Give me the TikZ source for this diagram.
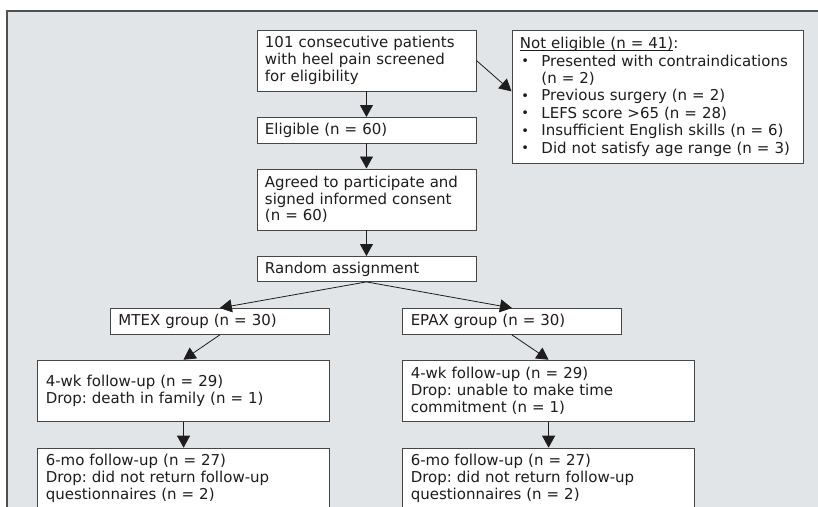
\documentclass[tikz,border=0pt]{standalone}
\usepackage{fontspec}
\setmainfont{DejaVu Sans}
\usetikzlibrary{arrows.meta,calc}
\definecolor{panel}{RGB}{225,229,232}
\definecolor{edgecol}{RGB}{80,80,80}
\definecolor{boxline}{RGB}{70,70,70}
\definecolor{ink}{RGB}{30,28,28}
\newcommand\nebul{\makebox[21.5pt][l]{\hspace{1.5pt}\raisebox{0.6pt}{\fontsize{13}{13}\selectfont\textbullet}}}
\newcommand\neul[1]{\setbox0\hbox{#1}\rlap{\rule[-2.4pt]{\wd0}{0.7pt}}\box0}
\frenchspacing
\begin{document}
\begin{tikzpicture}[x=1pt,y=-1pt,
  box/.style={draw=boxline, fill=white, line width=0.9pt, inner xsep=8pt, inner ysep=5pt,
    align=left, anchor=north west, text=ink, font=\fontsize{15}{16.8}\selectfont\frenchspacing},
  conn/.style={draw=ink, line width=0.8pt, -{Triangle[length=12pt,width=13pt]}}]
\useasboundingbox (0,0) rectangle (818,506);
\clip (0,0) rectangle (818,506);
\draw[fill=panel, draw=edgecol, line width=1.3pt] (7,11) rectangle (840,530);

\node[box, minimum width=219pt, minimum height=61pt, text width=203pt] (b1) at (256.5,29.5)
  {101 consecutive patients\\with heel pain screened\\for eligibility};
\node[box, minimum width=291pt, minimum height=132.5pt, text width=275pt,
  font=\fontsize{15}{17.4}\selectfont\frenchspacing] (ne) at (511.5,30)
  {\neul{Not eligible (n = 41)}:\\
   \nebul Presented with contraindications\\
   \hspace*{21.5pt}(n = 2)\\
   \nebul Previous surgery (n = 2)\\
   \nebul LEFS score >65 (n = 28)\\
   \nebul Insufficient English skills (n = 6)\\
   \nebul Did not satisfy age range (n = 3)};
\node[box, minimum width=219pt, minimum height=25.5pt, text width=203pt] (elig) at (256.5,117)
  {Eligible (n = 60)};
\node[box, minimum width=219pt, minimum height=61pt, text width=203pt] (agreed) at (256.5,168.5)
  {Agreed to participate and\\signed informed consent\\(n = 60)};
\node[box, minimum width=219pt, minimum height=25pt, text width=203pt] (random) at (256.5,256)
  {Random assignment};
\node[box, minimum width=218.7pt, minimum height=26pt, text width=202.7pt] (mtex) at (110,308)
  {MTEX group (n = 30)};
\node[box, minimum width=218.4pt, minimum height=26pt, text width=202.4pt] (epax) at (402.3,308)
  {EPAX group (n = 30)};
\node[box, minimum width=291.4pt, minimum height=61.3pt, text width=275.4pt] (w4l) at (37.3,359.7)
  {4-wk follow-up (n = 29)\\Drop: death in family (n = 1)};
\node[box, minimum width=291.7pt, minimum height=61.3pt, text width=275.7pt] (w4r) at (402.3,359.7)
  {4-wk follow-up (n = 29)\\Drop: unable to make time\\commitment (n = 1)};
\node[box, minimum width=291.7pt, text width=275.7pt, inner ysep=6pt] (m6l) at (37.3,447.7)
  {6-mo follow-up (n = 27)\\Drop: did not return follow-up\\questionnaires (n = 2)};
\node[box, minimum width=291.7pt, text width=275.7pt, inner ysep=6pt] (m6r) at (402.3,447.7)
  {6-mo follow-up (n = 27)\\Drop: did not return follow-up\\questionnaires (n = 2)};

\coordinate (neIn) at ($(ne.north west)!0.46!(ne.south west)$);
\draw[conn] (b1.east) -- (neIn);
\draw[conn] (b1.south) -- (elig.north);
\draw[conn] (elig.south) -- (agreed.north);
\draw[conn] (agreed.south) -- (random.north);
\draw[conn] (random.south) -- (mtex.north);
\draw[conn] (random.south) -- (epax.north);
\draw[conn] (mtex.south) -- (w4l.north);
\draw[conn] (epax.south) -- (w4r.north);
\draw[conn] (w4l.south) -- (m6l.north);
\draw[conn] (w4r.south) -- (m6r.north);
\end{tikzpicture}
\end{document}
